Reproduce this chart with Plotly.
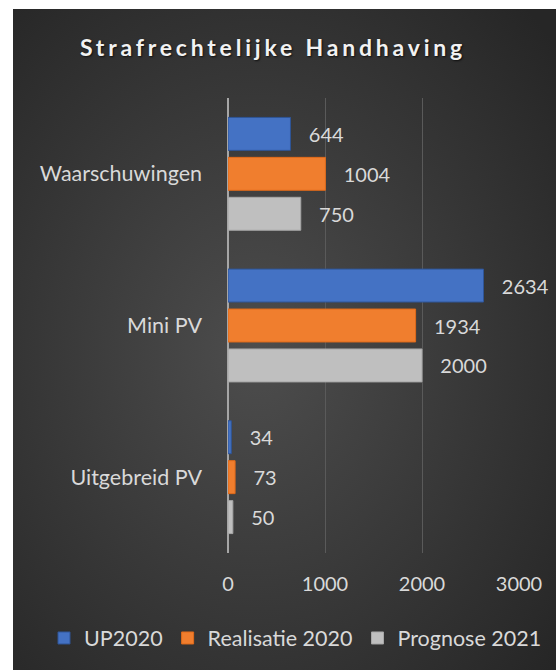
import base64
import plotly.graph_objects as go

categories = ["Waarschuwingen", "Mini PV", "Uitgebreid PV"]
series_names = ["UP2020", "Realisatie 2020", "Prognose 2021"]
up2020 = [644, 2634, 34]
realisatie2020 = [1004, 1934, 73]
prognose2021 = [750, 2000, 50]
x_ticks = [0, 1000, 2000, 3000]

colors = ["#4472C4", "#F07E2E", "#BFBFBF"]
borders = ["#2F5597", "#E06A1A", "#A6A6A6"]
values = [up2020, realisatie2020, prognose2021]

FONT = "Lato"
TXT = "#D9D9D9"
NUM = 20
LBL = 21.5

fig = go.Figure()
for name, vals, c, b in zip(series_names, values, colors, borders):
    fig.add_trace(go.Bar(
        y=categories, x=vals, name=name, orientation="h",
        marker=dict(color=c, line=dict(color=b, width=1)),
        texttemplate="   %{x}", textposition="outside", cliponaxis=False,
        textfont=dict(family=FONT, size=NUM, color=TXT),
    ))

# Background gradient (chart area: x 13..556, y 9..670 px)
W, H = 556, 670
L, R, T, B = 228, 37, 98, 117
pw, ph = W - L - R, H - T - B
svg = ("<svg xmlns='http://www.w3.org/2000/svg' width='543' height='661' preserveAspectRatio='none'>"
       "<defs><radialGradient id='g' cx='45%' cy='52%' r='72%'>"
       "<stop offset='0' stop-color='#4d4d4d'/><stop offset='1' stop-color='#262626'/>"
       "</radialGradient></defs><rect width='543' height='661' fill='url(#g)'/></svg>")
src = "data:image/svg+xml;base64," + base64.b64encode(svg.encode()).decode()
x0p = (13 - L) / pw
x1p = (W - L) / pw
y0p = (H - B - 9) / ph
y1p = (H - B - 670) / ph

fig.update_layout(
    width=W, height=H,
    margin=dict(l=L, r=R, t=T, b=B, pad=0, autoexpand=False),
    paper_bgcolor="white", plot_bgcolor="rgba(0,0,0,0)",
    images=[dict(source=src, xref="paper", yref="paper", x=x0p, y=y0p,
                 sizex=x1p - x0p, sizey=y0p - y1p, xanchor="left", yanchor="top",
                 sizing="stretch", layer="below")],
    barmode="group", bargap=0.21, bargroupgap=0.175,
    title=dict(text="<b>Strafrechtelijke Handhaving</b>", xref="container", yref="container",
               x=273 / W, y=1 - 48 / H, xanchor="center", yanchor="middle",
               font=dict(family=FONT, size=23, color="#F2F2F2",
                         shadow="1px 1px 2px rgba(0,0,0,0.7)")),
    font=dict(family=FONT, size=LBL, color=TXT),
    showlegend=True,
    legend=dict(orientation="h", xref="paper", yref="paper",
                x=(44 - L) / pw, y=(H - B - 638) / ph,
                xanchor="left", yanchor="middle", font=dict(family=FONT, size=LBL, color=TXT),
                bgcolor="rgba(0,0,0,0)", itemwidth=30, tracegroupgap=0),
)
fig.update_xaxes(range=[0, 3000], tickvals=x_ticks, showgrid=True, gridcolor="#5a5a5a",
                 gridwidth=1, zeroline=True, zerolinecolor="#A6A6A6", zerolinewidth=2,
                 showline=False, ticks="", ticklabelstandoff=17,
                 tickfont=dict(family=FONT, size=NUM, color=TXT))
fig.update_yaxes(autorange="reversed", showgrid=False, zeroline=False, showline=False,
                 ticks="", ticklabelstandoff=25,
                 tickfont=dict(family=FONT, size=LBL, color=TXT))

post = ("document.body.style.margin='0';document.body.style.overflow='hidden';"
        "var s=document.createElement('style');"
        "s.innerHTML='.gtitle{letter-spacing:3.8px}';document.head.appendChild(s);")
fig.write_html("out.html", post_script=post, config={"displayModeBar": False})
